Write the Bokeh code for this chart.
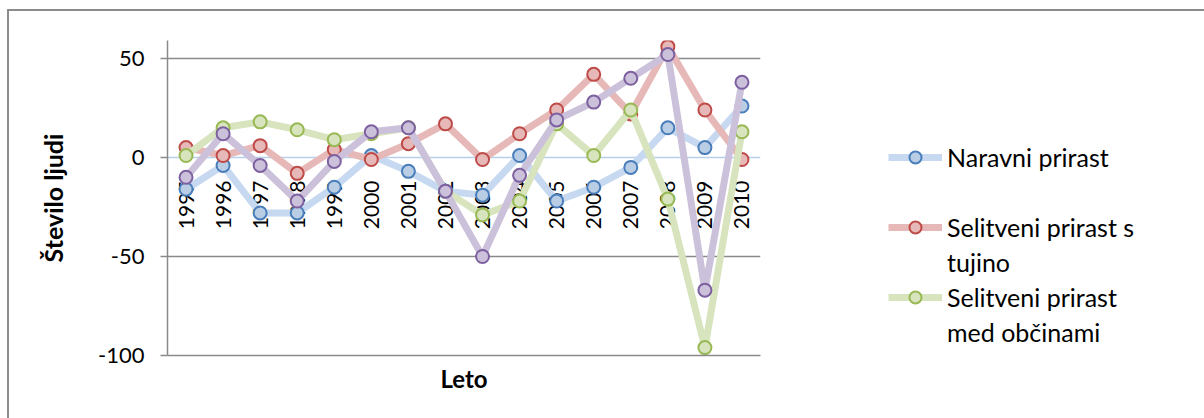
import math
from bokeh.plotting import figure
from bokeh.models import (Range1d, FactorRange, FixedTicker, Span, Legend,
                          LegendItem)
from bokeh.core.properties import value
from bokeh.embed import file_html
from bokeh.resources import INLINE

# ---------------- data ----------------
years = [str(y) for y in range(1995, 2011)]
naravni_prirast = [-16, -4, -28, -28, -15, 1, -7, -17, -19, 1, -22, -15, -5, 15, 5, 26]
selitveni_tujina = [5, 1, 6, -8, 4, -1, 7, 17, -1, 12, 24, 42, 22, 56, 24, -1]
selitveni_obcine = [1, 15, 18, 14, 9, 12, 15, -17, -29, -22, 17, 1, 24, -21, -96, 13]
skupni_prirast = [-10, 12, -4, -22, -2, 13, 15, -17, -50, -9, 19, 28, 40, 52, -67, 38]
y_ticks = [-100, -50, 0, 50]
y_tick_labels = ["-100", "-50", "0", "50"]

FONT = "Lato"
GRID = "#8a8a8a"

p = figure(frame_width=593, frame_height=315,
           x_range=FactorRange(*years, range_padding=0),
           y_range=Range1d(-100, 59.1),
           output_backend="svg", toolbar_location=None,
           min_border_left=158, min_border_right=190,
           min_border_top=29, min_border_bottom=63)
p.styles = {"margin-left": "7px", "margin-top": "9px",
            "border-left": "2px solid #8c8c8c", "border-top": "2px solid #8c8c8c"}
p.outline_line_color = None
p.background_fill_color = "white"
p.border_fill_color = "white"

# grid
p.xgrid.visible = False
p.ygrid.ticker = FixedTicker(ticks=[50, -50])
p.ygrid.grid_line_color = GRID
p.ygrid.grid_line_width = 1.5

# y axis
p.yaxis.ticker = FixedTicker(ticks=y_ticks)
p.yaxis.major_label_overrides = dict(zip(y_ticks, y_tick_labels))
p.yaxis.axis_line_color = GRID
p.yaxis.axis_line_width = 1.5
p.yaxis.major_tick_line_color = GRID
p.yaxis.major_tick_line_width = 1.5
p.yaxis.major_tick_out = 7
p.yaxis.major_tick_in = 0
p.yaxis.minor_tick_line_color = None
p.yaxis.major_label_standoff = 16
p.yaxis.major_label_text_font = FONT
p.yaxis.major_label_text_font_size = "22px"
p.yaxis.major_label_text_color = "black"
p.yaxis.axis_label = "Število ljudi"
p.yaxis.axis_label_text_font = FONT
p.yaxis.axis_label_text_font_style = "bold"
p.yaxis.axis_label_text_font_size = "25px"
p.yaxis.axis_label_text_color = "black"
p.yaxis.axis_label_standoff = 27

# x axis (only the bottom line and the title)
p.xaxis.ticker = FixedTicker(ticks=[])
p.xaxis.axis_line_color = GRID
p.xaxis.axis_line_width = 1.5
p.xaxis.major_tick_line_color = None
p.xaxis.minor_tick_line_color = None
p.xaxis.major_label_text_font_size = "0px"
p.xaxis.axis_label = "Leto"
p.xaxis.axis_label_text_font = FONT
p.xaxis.axis_label_text_font_style = "bold"
p.xaxis.axis_label_text_font_size = "24px"
p.xaxis.axis_label_text_color = "black"
p.xaxis.axis_label_standoff = 8

# zero line (category axis)
p.add_layout(Span(location=0, dimension="width", line_color="#b8cfea",
                  line_width=1.5, level="underlay"))

# category labels next to the zero line
p.text(x=years, y=[0] * len(years), text=years, angle=math.pi / 2,
       text_align="right", text_baseline="middle", y_offset=23,
       text_font=value(FONT), text_font_size="21px", text_color="black")

series = [
    ("Naravni prirast", naravni_prirast, "#c6d9f1", "#b9cde5", "#4a7ebb"),
    ("Selitveni prirast s", selitveni_tujina, "#e6b9b8", "#e6b9b8", "#be4b48"),
    ("Selitveni prirast", selitveni_obcine, "#d7e4bd", "#d7e4bd", "#98b954"),
    (None, skupni_prirast, "#ccc1da", "#ccc1da", "#7d60a0"),
]

rends = {}
for name, vals, lc, fc, ec in series:
    lr = p.line(years, vals, line_width=7, line_color=lc, line_join="round")
    sr = p.scatter(years, vals, size=13, fill_color=fc, line_color=ec, line_width=2)
    rends[name] = [lr, sr]

# invisible renderer for the wrapped second lines of legend labels
blank = p.line(x=[], y=[], line_alpha=0)

items = [
    LegendItem(label="Naravni prirast", renderers=rends["Naravni prirast"]),
    LegendItem(label=" ", renderers=[blank]),
    LegendItem(label="Selitveni prirast s", renderers=rends["Selitveni prirast s"]),
    LegendItem(label="tujino", renderers=[blank]),
    LegendItem(label="Selitveni prirast", renderers=rends["Selitveni prirast"]),
    LegendItem(label="med občinami", renderers=[blank]),
]

legend = Legend(items=items, location=(128, 8), padding=0, margin=0,
                spacing=5, label_height=30, glyph_height=30, glyph_width=54,
                label_standoff=5, background_fill_alpha=0, border_line_alpha=0,
                label_text_font=FONT, label_text_font_size="25px",
                label_text_color="black")
p.add_layout(legend, "right")

open("out.html", "w").write(file_html(p, INLINE))
